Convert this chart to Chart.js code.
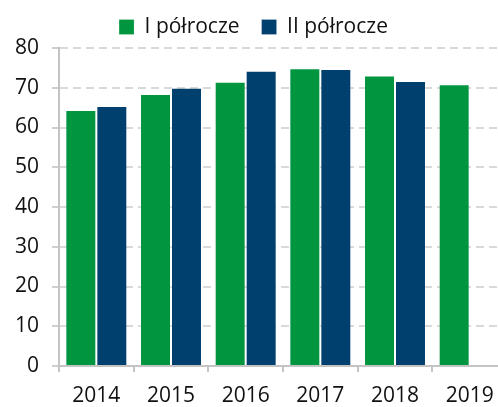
<!DOCTYPE html>
<html>
<head>
<meta charset="utf-8">
<script src="https://cdn.jsdelivr.net/npm/chart.js@4/dist/chart.umd.min.js"></script>
<style>
html,body{margin:0;padding:0;background:#fff;overflow:hidden;width:498px;height:407px;}
canvas{display:block;}
</style>
</head>
<body>
<canvas id="c" width="507" height="407"></canvas>
<script>
const categories = ['2014', '2015', '2016', '2017', '2018', '2019'];
const seriesNames = ['I półrocze', 'II półrocze'];
const firstHalf = [64.4, 68.4, 71.5, 74.9, 73.1, 70.9];
const secondHalf = [65.4, 70.0, 74.3, 74.7, 71.7, null];
const yTicks = [0, 10, 20, 30, 40, 50, 60, 70, 80];

const FONT = 'Open Sans';
const legendFix = {
  id: 'legendFix',
  afterInit(chart) {
    const lg = chart.legend;
    if (!lg) return;
    const orig = lg.fit.bind(lg);
    lg.fit = function () { orig(); this.height = 53.5; };
  }
};

new Chart(document.getElementById('c'), {
  type: 'bar',
  data: {
    labels: categories,
    datasets: [
      { label: seriesNames[0], data: firstHalf, backgroundColor: '#009640', borderColor: 'rgba(255,255,255,0.2)', borderWidth: 1 },
      { label: seriesNames[1], data: secondHalf, backgroundColor: '#00406E', borderColor: 'rgba(255,255,255,0.2)', borderWidth: 1 }
    ]
  },
  options: {
    responsive: false,
    animation: false,
    devicePixelRatio: 1,
    layout: { padding: { top: -5.5, left: 0, right: 0, bottom: 0 } },
    datasets: { bar: { categoryPercentage: 0.83, barPercentage: 1.0 } },
    plugins: {
      tooltip: { enabled: false },
      legend: {
        position: 'top',
        labels: {
          font: { family: FONT, size: 21 },
          color: '#111',
          boxWidth: 15,
          boxHeight: 15,
          padding: 22
        }
      }
    },
    scales: {
      x: {
        offset: true,
        grid: { display: true, drawOnChartArea: false, offset: true, tickLength: 6, color: '#c4c4c4', lineWidth: 2 },
        border: { display: true, color: '#c4c4c4', width: 2 },
        ticks: { font: { family: FONT, size: 21 }, color: '#111', padding: 11, maxRotation: 0, autoSkip: false },
        afterFit(s) { s.height = 41; }
      },
      y: {
        min: 0, max: 80,
        afterBuildTicks(s) { s.ticks = yTicks.map(v => ({ value: v })); },
        grid: { color: '#d9d9d9', lineWidth: 2, tickLength: 7, tickColor: '#cfcfcf', tickBorderDash: [] },
        border: { display: true, color: '#c4c4c4', width: 2, dash: [8, 5] },
        ticks: { font: { family: FONT, size: 21 }, color: '#111', padding: 13 },
        afterFit(s) { s.width = 59; }
      }
    }
  },
  plugins: [legendFix]
});
</script>
</body>
</html>
